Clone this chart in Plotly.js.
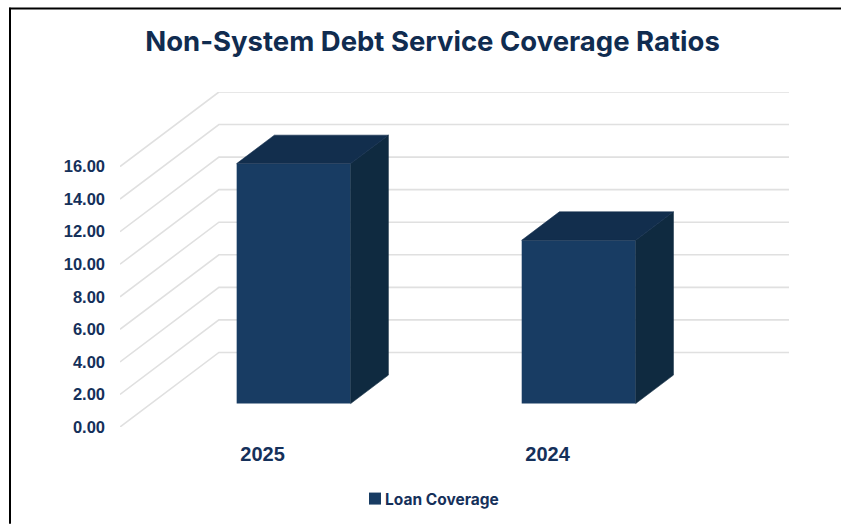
<!DOCTYPE html>
<html><head><meta charset="utf-8">
<script src="https://cdn.plot.ly/plotly-3.0.1.min.js"></script>
<style>html,body{margin:0;padding:0;background:#fff}#c{width:841px;height:524px}</style>
</head><body><div id="c"></div>
<script>
const categories = ['2025', '2024'];
const loanCoverage = [14.74, 10.03];
const seriesName = 'Loan Coverage';
const yTicks = [0, 2, 4, 6, 8, 10, 12, 14, 16];
const titleText = 'Non-System Debt Service Coverage Ratios';

const FONT = 'Inter, "Liberation Sans", sans-serif';
const NUMFONT = '"Liberation Sans", Arial, sans-serif';
const TEXT = '#15305a';
const W = 841, H = 524;
const M = {l: 120, r: 52, t: 91.5, b: 97};
const plotW = W - M.l - M.r, plotH = H - M.t - M.b;
const depthX = 0.347, depthY = 4.58;      // oblique floor depth in axis units
const frontDepth = 0.315, backDepth = 0.696, barWidth = 0.40;
const xStart = -0.5, xEnd = 1.5;
const pos = categories.map((c, i) => i);

const P = (x, y, d) => [x + d * depthX, y + d * depthY];
const px = x => (x - M.l) / plotW;
const py = y => (H - M.b - y) / plotH;

const shapes = yTicks.map(v => {
  const a = P(xStart, v, 0), b = P(xStart, v, 1), c = P(xEnd, v, 1);
  return {type: 'path', xref: 'x', yref: 'y', layer: 'below',
    path: `M${a[0]},${a[1]} L${b[0]},${b[1]} L${c[0]},${c[1]}`,
    line: {color: '#e0e0e0', width: 1.6}};
});
shapes.push({type: 'line', xref: 'paper', yref: 'paper', x0: px(10), x1: px(10), y0: py(H), y1: py(7), line: {color: '#000', width: 2}});
shapes.push({type: 'line', xref: 'paper', yref: 'paper', x0: px(9), x1: px(W), y0: py(8), y1: py(8), line: {color: '#000', width: 2}});

function face(pts, color) {
  return {type: 'scatter', mode: 'lines', x: pts.map(p => p[0]).concat(pts[0][0]), y: pts.map(p => p[1]).concat(pts[0][1]),
    fill: 'toself', fillcolor: color, line: {width: 0.6, color: color}, hoverinfo: 'skip', showlegend: false};
}
const traces = [];
pos.forEach((p, i) => {
  const l = p - barWidth / 2, r = p + barWidth / 2, v = loanCoverage[i];
  traces.push(face([P(r, 0, frontDepth), P(r, 0, backDepth), P(r, v, backDepth), P(r, v, frontDepth)], '#0f2a40'));
  traces.push(face([P(l, v, frontDepth), P(r, v, frontDepth), P(r, v, backDepth), P(l, v, backDepth)], '#122e4d'));
});
traces.push({type: 'bar', name: seriesName, x: pos.map(p => p + frontDepth * depthX), y: loanCoverage,
  base: pos.map(() => frontDepth * depthY), width: barWidth, showlegend: true,
  marker: {color: '#183c63', line: {width: 0}}});

const layout = {
  width: W, height: H, paper_bgcolor: '#fff', plot_bgcolor: 'rgba(0,0,0,0)',
  margin: {l: M.l, r: M.r, t: M.t, b: M.b, autoexpand: false},
  title: {text: titleText, x: 432.5 / W, xref: 'container', xanchor: 'center', y: 1 - 41 / H, yref: 'container', yanchor: 'middle',
    font: {family: FONT, size: 27.5, color: '#102c50', weight: 700}},
  xaxis: {range: [xStart, 1.847], tickmode: 'array', tickvals: pos, ticktext: categories, showgrid: false, zeroline: false, showline: false,
    ticks: '', ticklabelstandoff: 13, tickfont: {family: NUMFONT, size: 20, color: TEXT, weight: 700}, fixedrange: true},
  yaxis: {range: [0, 20.58], tickmode: 'array', tickvals: yTicks, tickformat: '.2f', showgrid: false, zeroline: false, showline: false,
    ticks: '', ticklabelstandoff: 14, tickfont: {family: NUMFONT, size: 16.5, color: TEXT, weight: 700}, fixedrange: true},
  showlegend: true,
  legend: {orientation: 'h', xref: 'container', yref: 'container', x: 345 / W, xanchor: 'left', y: 1 - 499 / H, yanchor: 'middle', bgcolor: 'rgba(0,0,0,0)',
    font: {family: FONT, size: 15.5, color: TEXT, weight: 700}},
  shapes: shapes
};
Plotly.newPlot('c', traces, layout, {displayModeBar: false, staticPlot: true}).then(() => {
  // tuck the legend swatch up against its label, as in the reference
  document.querySelectorAll('.legendpoints').forEach(g => g.setAttribute('transform', 'translate(10,0)'));
});
</script></body></html>
